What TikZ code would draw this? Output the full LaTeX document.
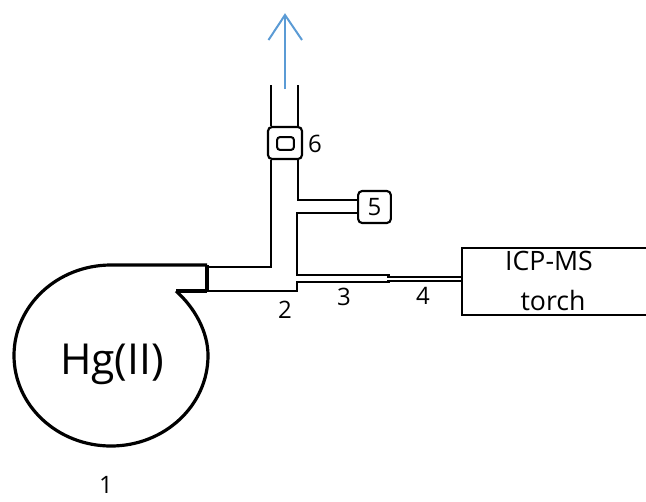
\documentclass[tikz,border=0pt]{standalone}
\usepackage{fontspec}
\setmainfont{Open Sans}
\definecolor{flowblue}{HTML}{5B9BD5}
\tikzset{
  wall/.style={black, line width=1.4pt},
  thickwall/.style={black, line width=2.4pt},
  innerwall/.style={black, line width=1pt},
  number/.style={inner sep=0pt, font=\fontsize{18}{20}\selectfont},
  devicebox/.style={draw=black, fill=white, line width=1.6pt, rounded corners=3pt, inner sep=0pt},
}
\begin{document}
\begin{tikzpicture}[x=0.75pt, y=-0.75pt]
  \useasboundingbox (0,0) rectangle (646,501);
  % draw the vessel with its outlet
  \coordinate (vessel_tip) at (176,291);
  \coordinate (vessel_right) at (208,355.5);
  \coordinate (outlet_top) at (207,265);
  \coordinate (outlet_low) at (207,291);
  \draw[thickwall, line join=round] (vessel_tip) .. controls (195,308) and (208,332) .. (vessel_right) arc[start angle=0, end angle=270, x radius=97, y radius=90.5] -- (outlet_top);
  \draw[thickwall, line width=3pt] (outlet_top) -- (outlet_low);
  \draw[thickwall] (outlet_low) -- (vessel_tip);
  \node[inner sep=0pt, font=\fontsize{32}{34}\selectfont] (hg_label) at (112,364) {Hg(II)};
  \node[number] (label1) at (106,485) {1};
  % draw the boxes 5 and 6
  \node[devicebox, minimum width=25.5pt, minimum height=24pt] (box6) at (285,143) {};
  \node[draw=black, line width=1.5pt, rounded corners=2pt, minimum width=12.5pt, minimum height=9.5pt, inner sep=0pt] (box6_inner) at (285.5,143.5) {};
  \node[devicebox, minimum width=24.5pt, minimum height=24pt, font=\fontsize{18}{20}\selectfont] (box5) at (374.5,207) {5};
  \node[number] (label6) at (315,144) {6};
  % draw the tube walls
  \coordinate (stack_left) at (271,85);
  \coordinate (stack_right) at (298,85);
  \coordinate (wall_corner) at (271,267);
  \coordinate (branch_top) at (298,200);
  \coordinate (tee_top) at (297,213);
  \coordinate (tee_mid) at (297,275);
  \coordinate (tee_low) at (297,291);
  \coordinate (tee_end) at (297,282);
  \coordinate (wide_top) at (390,275);
  \coordinate (wide_low) at (390,282);
  \draw[wall] (stack_left) -- (stack_left |- box6.north);
  \draw[wall] (stack_right) -- (stack_right |- box6.north);
  \draw[wall] (stack_left |- box6.south) -- (wall_corner) -- (outlet_top |- wall_corner);
  \draw[wall] (stack_right |- box6.south) -- (branch_top) -- (box5.west |- branch_top);
  \draw[wall] (box5.west |- tee_top) -- (tee_top) -- (tee_mid) -- (wide_top);
  \draw[wall] (outlet_low) -- (tee_low) -- (tee_end) -- (wide_low);
  % draw the torch box
  \coordinate (torch_tr) at (646,248);
  \coordinate (torch_tl) at (462,248);
  \coordinate (torch_bl) at (462,315);
  \coordinate (torch_br) at (646,315);
  \draw[wall] (torch_tr) -- (torch_tl) -- (torch_bl) -- (torch_br);
  \draw[innerwall] (387,277) -- (torch_tl |- 0,277);
  \draw[innerwall] (387,281) -- (torch_tl |- 0,281);
  \node[inner sep=0pt, font=\fontsize{20}{22}\selectfont] (icp_label) at (549,261) {ICP-MS};
  \node[inner sep=0pt, font=\fontsize{20}{22}\selectfont] (torch_label) at (553,300) {torch};
  % draw the numbers under the tubes
  \node[number] (label2) at (285,310) {2};
  \node[number] (label3) at (344,297) {3};
  \node[number] (label4) at (423,296) {4};
  % draw the blue arrow
  \coordinate (arrow_foot) at (285,89);
  \coordinate (arrow_tip) at (285,15);
  \draw[flowblue, line width=1.5pt] (arrow_foot) -- (arrow_tip);
  \draw[flowblue, line width=1.5pt] (268.5,40) -- (arrow_tip) -- (302,40);
\end{tikzpicture}
\end{document}
